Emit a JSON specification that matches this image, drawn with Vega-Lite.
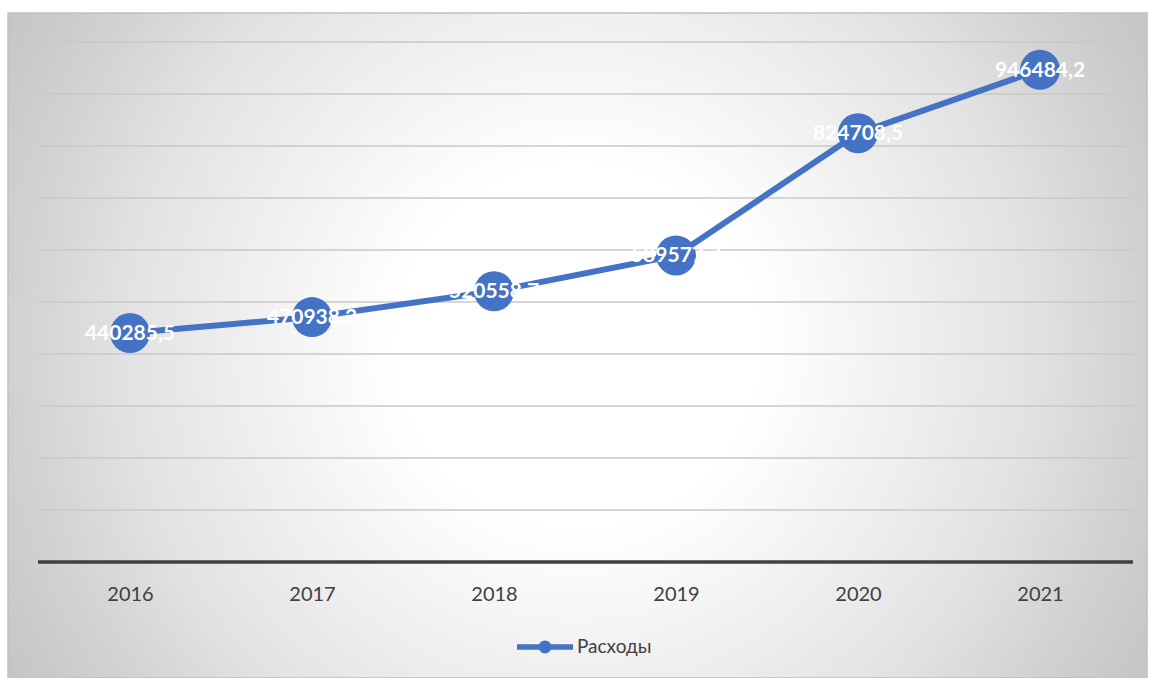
{
  "$schema": "https://vega.github.io/schema/vega-lite/v6.json",
  "width": 1139,
  "height": 665,
  "autosize": "none",
  "padding": {"left": 8, "top": 13, "right": 2, "bottom": 0},
  "background": "#ffffff",
  "config": {
    "font": "Lato",
    "locale": {"number": {"decimal": ",", "thousands": "", "grouping": [3], "currency": ["", ""]}},
    "view": {
      "stroke": "#c0c0c0",
      "strokeWidth": 1.5,
      "fill": {
        "gradient": "radial",
        "x1": 0.5, "y1": 0.5, "r1": 0,
        "x2": 0.5, "y2": 0.5, "r2": 0.57,
        "stops": [
          {"offset": 0, "color": "#ffffff"},
          {"offset": 0.28, "color": "#ffffff"},
          {"offset": 0.5, "color": "#f0f0f0"},
          {"offset": 0.7, "color": "#e2e2e2"},
          {"offset": 0.85, "color": "#d3d3d3"},
          {"offset": 1, "color": "#c6c6c6"}
        ]
      }
    },
    "axisX": {
      "offset": -116,
      "domain": false,
      "ticks": false,
      "tickSize": 0,
      "grid": false,
      "labelPadding": 22,
      "labelFontSize": 20,
      "labelColor": "#404040",
      "labelFont": "Lato"
    }
  },
  "datasets": {
    "main": [
      {"year": 2016, "value": 440285.5, "series": "Расходы"},
      {"year": 2017, "value": 470938.3, "series": "Расходы"},
      {"year": 2018, "value": 520558.7, "series": "Расходы"},
      {"year": 2019, "value": 589577.7, "series": "Расходы"},
      {"year": 2020, "value": 824708.5, "series": "Расходы"},
      {"year": 2021, "value": 946484.2, "series": "Расходы"}
    ],
    "grid": [
      {"v": 0}, {"v": 100000}, {"v": 200000}, {"v": 300000}, {"v": 400000},
      {"v": 500000}, {"v": 600000}, {"v": 700000}, {"v": 800000}, {"v": 900000}, {"v": 1000000}
    ]
  },
  "layer": [
    {
      "data": {"name": "grid"},
      "mark": {"type": "rule"},
      "encoding": {
        "y": {"field": "v", "type": "quantitative", "title": null},
        "x": {"datum": 2015.4945, "type": "quantitative", "title": null},
        "x2": {"datum": 2021.511},
        "color": {"condition": {"test": "datum.v == 0", "value": "#404040"}, "value": "#c8c8c8"},
        "strokeWidth": {"condition": {"test": "datum.v == 0", "value": 3.5}, "value": 1.3}
      }
    },
    {
      "data": {"name": "main"},
      "mark": {"type": "line", "strokeWidth": 6},
      "encoding": {
        "x": {
          "field": "year", "type": "quantitative", "title": null,
          "scale": {"domain": [2015.3297, 2021.5879], "nice": false, "zero": false},
          "axis": {"values": [2016, 2017, 2018, 2019, 2020, 2021], "format": "d"}
        },
        "y": {
          "field": "value", "type": "quantitative", "title": null,
          "scale": {"domain": [-223077, 1055769], "nice": false, "zero": false},
          "axis": null
        },
        "color": {
          "field": "series", "type": "nominal",
          "scale": {"range": ["#4472C4"]},
          "legend": {
            "title": null,
            "orient": "none",
            "legendX": 509,
            "legendY": 606,
            "padding": 0,
            "symbolType": "M-1,-0.095H1V0.095H-1Z M-0.23,0A0.23,0.23 0 1,1 0.23,0A0.23,0.23 0 1,1 -0.23,0Z",
            "symbolSize": 3136,
            "symbolFillColor": "#4472C4",
            "symbolStrokeWidth": 0,
            "symbolOpacity": 1,
            "labelFont": "Lato",
            "labelFontSize": 19,
            "labelColor": "#404040",
            "labelOffset": 4
          }
        }
      }
    },
    {
      "data": {"name": "main"},
      "mark": {"type": "point", "filled": true, "opacity": 1, "size": 1600, "shape": "circle"},
      "encoding": {
        "x": {"field": "year", "type": "quantitative", "title": null},
        "y": {"field": "value", "type": "quantitative", "title": null},
        "color": {"field": "series", "type": "nominal"}
      }
    },
    {
      "data": {"name": "main"},
      "mark": {"type": "text", "color": "#ffffff", "font": "Lato", "fontWeight": "bold", "fontSize": 21, "align": "center", "baseline": "middle", "dy": 1},
      "encoding": {
        "x": {"field": "year", "type": "quantitative", "title": null},
        "y": {"field": "value", "type": "quantitative", "title": null},
        "text": {"field": "value", "type": "quantitative", "format": ".1f"}
      }
    }
  ]
}
